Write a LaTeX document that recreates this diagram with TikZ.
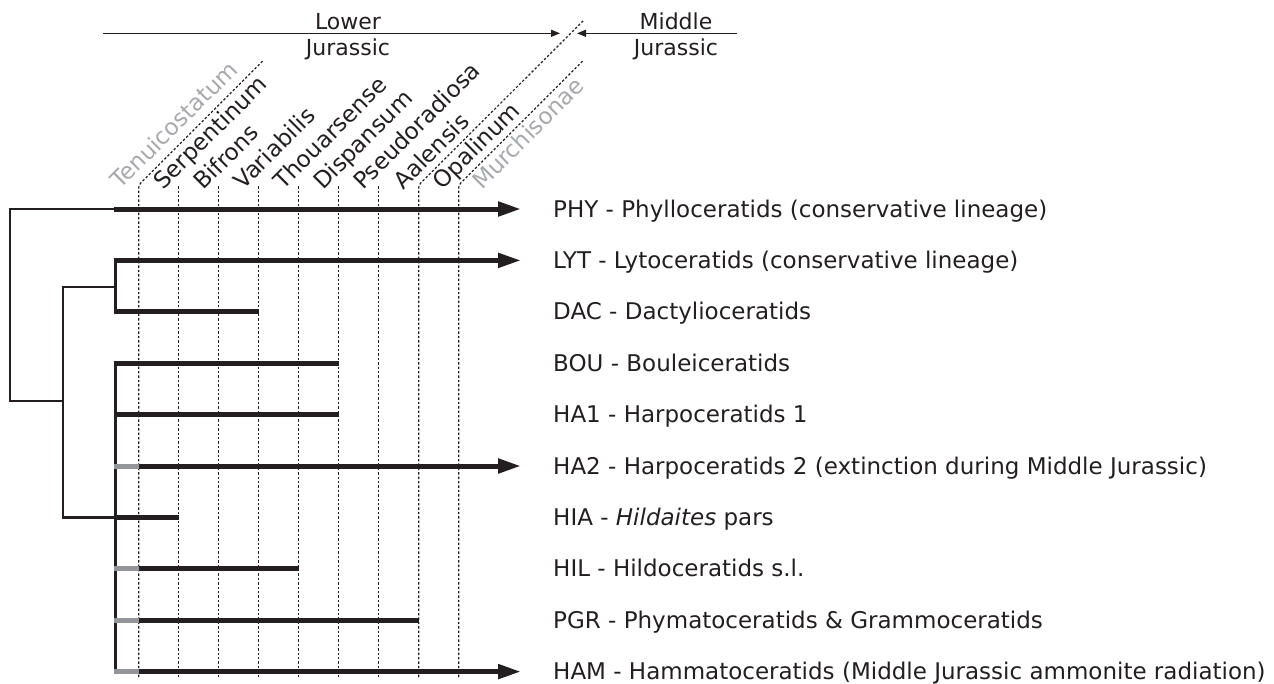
\documentclass[tikz,border=0pt]{standalone}
\usepackage{fontspec}
\setmainfont{DejaVu Sans}
\usetikzlibrary{arrows.meta}
\definecolor{ink}{HTML}{231F20}
\definecolor{stub}{HTML}{939598}
\definecolor{pale}{HTML}{A7A9AC}
\tikzset{
  thinbranch/.style={draw=ink, line width=2.4pt, line cap=butt, line join=miter},
  stem/.style={draw=ink, line width=3pt, line cap=butt},
  rangebar/.style={draw=ink, line width=5pt, line cap=butt},
  graystub/.style={draw=stub, line width=5pt, line cap=butt},
  living/.style={rangebar, -{Triangle[length=23pt,width=14pt]}},
  zoneline/.style={draw=ink, line width=1.2pt, dash pattern=on 2.4pt off 2pt, rounded corners=3pt},
  axisline/.style={draw=ink, line width=1.3pt, -{Triangle[length=9pt,width=7pt]}},
  lab/.style={anchor=base west, inner sep=0pt, text=ink, font=\fontsize{23}{28}\selectfont},
  stage/.style={anchor=base west, inner sep=0pt, rotate=45, text=ink, font=\fontsize{23}{26}\selectfont},
  palestage/.style={stage, text=pale},
  period/.style={anchor=base, inner sep=0pt, text=ink, font=\fontsize{22}{25}\selectfont}
}
\begin{document}
\begin{tikzpicture}[x=1pt,y=-1pt]
\useasboundingbox (0,0) rectangle (1274,683);

% ---------- period axis ----------
\coordinate (lowA) at (103,33.3);
\coordinate (lowB) at (560,33.3);
\coordinate (midA) at (737,33.3);
\coordinate (midB) at (577,33.3);
\draw[axisline] (lowA) -- (lowB);
\draw[axisline] (midA) -- (midB);
\node[period] (lower1) at (348,29) {Lower};
\node[period] (lower2) at (348,55) {Jurassic};
\node[period] (middle1) at (676,29) {Middle};
\node[period] (middle2) at (676,55) {Jurassic};

% ---------- zone boundaries ----------
\foreach \i in {0,...,8}{
  \coordinate (zt\i) at ({138.7+40*\i},185);
  \coordinate (zb\i) at ({138.7+40*\i},677);
}
\coordinate (dg0) at (262.7,61);
\coordinate (dg7) at (583,21);
\coordinate (dg8) at (582.7,61);
\draw[zoneline] (zb0) -- (zt0) -- (dg0);
\foreach \i in {1,...,6}{ \draw[zoneline] (zb\i) -- (zt\i); }
\draw[zoneline] (zb7) -- (zt7) -- (dg7);
\draw[zoneline] (zb8) -- (zt8) -- (dg8);

% ---------- zone names ----------
\node[palestage] (z0) at (120.5,190) {Tenuicostatum};
\node[stage] (z1) at (163.5,191) {Serpentinum};
\node[stage] (z2) at (203.5,191) {Bifrons};
\node[stage] (z3) at (243,191) {Variabilis};
\node[stage] (z4) at (283.5,191) {Thouarsense};
\node[stage] (z5) at (323,191) {Dispansum};
\node[stage] (z6) at (363,191) {Pseudoradiosa};
\node[stage] (z7) at (403,191) {Aalensis};
\node[stage] (z8) at (442.5,191) {Opalinum};
\node[palestage] (z9) at (482,191) {Murchisonae};

% ---------- rows ----------
\foreach \n/\y in {PHY/209,LYT/260.4,DAC/311.8,BOU/363.2,HA1/414.6,HA2/466,HIA/517.4,HIL/568.8,PGR/620.2,HAM/671.6}{
  \coordinate (s\n) at (113.5,\y);
  \coordinate (g\n) at (138.7,\y);
  \coordinate (a\n) at (521,\y);
}
\coordinate (eDAC) at (258.7,311.8);
\coordinate (eBOU) at (338.7,363.2);
\coordinate (eHA1) at (338.7,414.6);
\coordinate (eHIA) at (178.7,517.4);
\coordinate (eHIL) at (298.7,568.8);
\coordinate (ePGR) at (418.7,620.2);

% ---------- tree ----------
\coordinate (root) at (10,209);
\coordinate (rootB) at (10,401);
\coordinate (n2T) at (63,286.7);
\coordinate (n2B) at (63,517.4);
\coordinate (n2M) at (63,401);
\coordinate (ldT) at (115,260.4);
\coordinate (ldB) at (115,311.8);
\coordinate (ldM) at (115,286.7);
\coordinate (bgT) at (115,363.2);
\coordinate (bgB) at (115,671.6);
\coordinate (bgM) at (115,517.4);
\coordinate (phyJ) at (115,209);

\draw[thinbranch] (phyJ) -- (root) -- (rootB) -- (n2M);
\draw[thinbranch] (ldM) -- (n2T) -- (n2B) -- (bgM);
\draw[stem] ([yshift=2.5pt]ldT) -- ([yshift=-2.5pt]ldB);
\draw[stem] ([yshift=2.5pt]bgT) -- ([yshift=-2.5pt]bgB);

\draw[living] (sPHY) -- (aPHY);
\draw[living] (sLYT) -- (aLYT);
\draw[rangebar] (sDAC) -- (eDAC);
\draw[rangebar] (sBOU) -- (eBOU);
\draw[rangebar] (sHA1) -- (eHA1);
\draw[graystub] (sHA2) -- (gHA2);
\draw[living] (gHA2) -- (aHA2);
\draw[rangebar] (sHIA) -- (eHIA);
\draw[graystub] (sHIL) -- (gHIL);
\draw[rangebar] (gHIL) -- (eHIL);
\draw[graystub] (sPGR) -- (gPGR);
\draw[rangebar] (gPGR) -- (ePGR);
\draw[graystub] (sHAM) -- (gHAM);
\draw[living] (gHAM) -- (aHAM);

% ---------- labels ----------
\node[lab] (tPHY) at (553,217) {PHY - Phylloceratids (conservative lineage)};
\node[lab] (tLYT) at (553,268.4) {LYT - Lytoceratids (conservative lineage)};
\node[lab] (tDAC) at (553,319.8) {DAC - Dactylioceratids};
\node[lab] (tBOU) at (553,371.2) {BOU - Bouleiceratids};
\node[lab] (tHA1) at (553,422.6) {HA1 - Harpoceratids 1};
\node[lab] (tHA2) at (553,474) {HA2 - Harpoceratids 2 (extinction during Middle Jurassic)};
\node[lab] (tHIA) at (553,525.4) {HIA - \textit{Hildaites} pars};
\node[lab] (tHIL) at (553,576.8) {HIL - Hildoceratids s.l.};
\node[lab] (tPGR) at (553,628.2) {PGR - Phymatoceratids \& Grammoceratids};
\node[lab] (tHAM) at (553,679.4) {HAM - Hammatoceratids (Middle Jurassic ammonite radiation)};
\end{tikzpicture}
\end{document}
